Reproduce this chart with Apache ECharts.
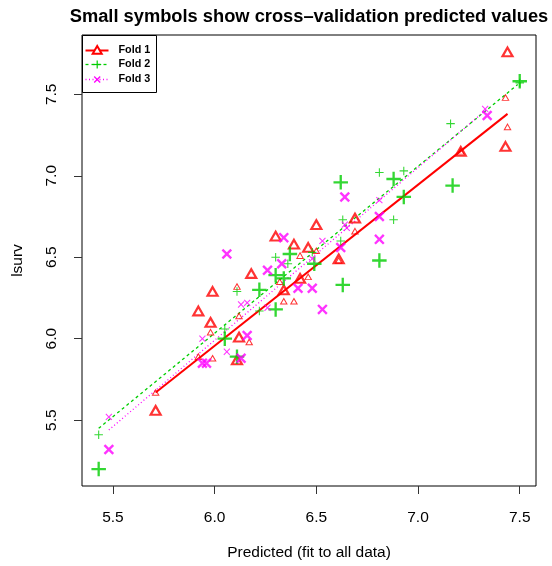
<!DOCTYPE html>
<html>
<head>
<meta charset="utf-8">
<script src="https://cdn.jsdelivr.net/npm/echarts@6/dist/echarts.min.js"></script>
<style>
  html, body { margin: 0; padding: 0; background: #fff; }
  #chart { width: 552px; height: 566px; }
</style>
</head>
<body>
<div id="chart"></div>
<script>
// Tick positions on both axes
const xTicks = [5.5, 6.0, 6.5, 7.0, 7.5];
const yTicks = [5.5, 6.0, 6.5, 7.0, 7.5];

// Fold 1: observed lsurv vs prediction from the full fit (large), and CV predictions (small)
const fold1Observed = [
  [7.44, 7.76], [7.43, 7.18], [7.21, 7.15], [6.69, 6.74], [6.50, 6.70], [6.30, 6.63],
  [6.39, 6.58], [6.46, 6.56], [6.61, 6.49], [6.42, 6.37], [6.34, 6.30], [6.18, 6.40],
  [5.99, 6.29], [5.92, 6.17], [5.98, 6.10], [6.12, 6.01], [6.11, 5.87], [5.71, 5.56]
];
const fold1CV = [
  [7.43, 7.48], [7.44, 7.30], [7.21, 7.15], [6.69, 6.66], [6.42, 6.51], [6.50, 6.54],
  [6.46, 6.38], [6.61, 6.48], [6.34, 6.23], [6.39, 6.23], [6.32, 6.35], [6.11, 6.32],
  [6.12, 6.14], [5.98, 6.04], [6.17, 5.98], [5.92, 5.89], [5.99, 5.88], [5.71, 5.67]
];
const fold1Line = [[5.71, 5.67], [7.44, 7.38]];

// Fold 2
const fold2Observed = [
  [7.50, 7.58], [7.17, 6.94], [6.93, 6.87], [6.88, 6.98], [6.62, 6.96], [6.81, 6.48],
  [6.63, 6.33], [6.49, 6.46], [6.37, 6.52], [6.34, 6.37], [6.30, 6.39], [6.22, 6.30],
  [6.30, 6.18], [6.05, 6.00], [6.11, 5.89], [5.43, 5.20]
];
const fold2CV = [
  [7.50, 7.57], [7.16, 7.32], [6.81, 7.02], [6.93, 7.03], [6.63, 6.73], [6.88, 6.73],
  [6.62, 6.60], [6.48, 6.53], [6.36, 6.46], [6.30, 6.50], [6.11, 6.29], [6.22, 6.17],
  [6.05, 6.06], [5.43, 5.41]
];
const fold2Line = [[5.43, 5.45], [7.49, 7.56]];

// Fold 3
const fold3Observed = [
  [7.34, 7.37], [6.64, 6.87], [6.81, 6.75], [6.81, 6.61], [6.62, 6.56], [6.34, 6.62],
  [6.33, 6.46], [6.41, 6.31], [6.48, 6.31], [6.53, 6.18], [6.26, 6.42], [6.06, 6.52],
  [6.16, 6.02], [6.13, 5.88], [5.94, 5.85], [5.96, 5.85], [5.48, 5.32]
];
const fold3CV = [
  [7.33, 7.41], [6.81, 6.85], [6.64, 6.70], [6.65, 6.68], [6.53, 6.60], [6.48, 6.49],
  [6.26, 6.19], [6.13, 6.21], [6.16, 6.22], [5.94, 6.00], [6.06, 5.92], [5.48, 5.52]
];
const fold3Line = [[5.48, 5.44], [7.34, 7.41]];

const foldNames = ['Fold 1', 'Fold 2', 'Fold 3'];

const RED = '#FF0000', GREEN = '#00CD00', MAGENTA = '#FF00FF';
const FONT = 'Liberation Sans, Arial, Helvetica, sans-serif';

// Filled outlines of "+" and "x" glyphs, in a 100x100 box
function plusPath(t) {
  const a = 50 - t / 2, b = 50 + t / 2;
  return `path://M${a},0 H${b} V${a} H100 V${b} H${b} V100 H${a} V${b} H0 V${a} H${a} Z`;
}
function crossPath(d) {
  return `path://M0,${d} L${d},0 L50,${50 - d} L${100 - d},0 L100,${d} L${50 + d},50 ` +
         `L100,${100 - d} L${100 - d},100 L50,${50 + d} L${d},100 L0,${100 - d} L${50 - d},50 Z`;
}

const chart = echarts.init(document.getElementById('chart'), null, { renderer: 'canvas' });

const gridLeft = 82, gridTop = 35, gridSize = 454;

function scatter(name, data, opts) {
  return Object.assign({
    type: 'scatter',
    name: name,
    data: data,
    silent: true,
    z: 3
  }, opts);
}

const option = {
  backgroundColor: '#fff',
  animation: false,
  textStyle: { fontFamily: FONT },
  title: {
    text: 'Small symbols show cross\u2013validation predicted values',
    left: gridLeft + gridSize / 2 - 5,
    textAlign: 'center',
    top: 3,
    textStyle: { fontFamily: FONT, fontSize: 18.3, fontWeight: 'bold', color: '#000' }
  },
  grid: {
    left: gridLeft, top: gridTop, width: gridSize, height: gridSize,
    show: true, borderColor: '#000', borderWidth: 1, backgroundColor: 'transparent'
  },
  xAxis: {
    type: 'value',
    min: 5.348, max: 7.58,
    name: 'Predicted (fit to all data)',
    nameLocation: 'middle',
    nameGap: 59,
    nameTextStyle: { fontFamily: FONT, fontSize: 15.5, color: '#000' },
    axisLine: { show: false },
    splitLine: { show: false },
    axisTick: { show: true, inside: false, length: 8, customValues: xTicks,
                lineStyle: { color: '#333', width: 1 } },
    axisLabel: { show: true, customValues: xTicks, margin: 24,
                 formatter: v => v.toFixed(1),
                 fontFamily: FONT, fontSize: 15.5, color: '#000' }
  },
  yAxis: {
    type: 'value',
    min: 5.096, max: 7.864,
    name: 'lsurv',
    nameLocation: 'middle',
    nameGap: 56,
    nameTextStyle: { fontFamily: FONT, fontSize: 15.5, color: '#000' },
    axisLine: { show: false },
    splitLine: { show: false },
    axisTick: { show: true, inside: false, length: 8, customValues: yTicks,
                lineStyle: { color: '#333', width: 1 } },
    axisLabel: { show: true, customValues: yTicks, margin: 22, rotate: 90,
                 formatter: v => v.toFixed(1),
                 fontFamily: FONT, fontSize: 15.5, color: '#000' }
  },
  series: [
    // fold lines
    { type: 'line', name: foldNames[0], data: fold1Line, symbol: 'none', silent: true, z: 2,
      lineStyle: { color: RED, width: 2, type: 'solid' } },
    { type: 'line', name: foldNames[1], data: fold2Line, symbol: 'none', silent: true, z: 2,
      lineStyle: { color: GREEN, width: 1.3, type: [3, 3] } },
    { type: 'line', name: foldNames[2], data: fold3Line, symbol: 'none', silent: true, z: 2,
      lineStyle: { color: MAGENTA, width: 1.3, type: [1, 2.5] } },

    // fold 1: open triangles
    scatter(foldNames[0], fold1Observed, {
      symbol: 'triangle', symbolSize: [10, 8.7],
      itemStyle: { color: 'rgba(0,0,0,0)', borderColor: RED, borderWidth: 2.2 }
    }),
    scatter(foldNames[0], fold1CV, {
      symbol: 'triangle', symbolSize: [6.4, 5.6],
      itemStyle: { color: 'rgba(0,0,0,0)', borderColor: RED, borderWidth: 1 }
    }),

    // fold 2: plus signs
    scatter(foldNames[1], fold2Observed, {
      symbol: plusPath(16), symbolSize: 14.5,
      itemStyle: { color: GREEN }
    }),
    scatter(foldNames[1], fold2CV, {
      symbol: plusPath(12.5), symbolSize: 8.5,
      itemStyle: { color: GREEN }
    }),

    // fold 3: crosses
    scatter(foldNames[2], fold3Observed, {
      symbol: crossPath(16), symbolSize: 10.5,
      itemStyle: { color: MAGENTA }
    }),
    scatter(foldNames[2], fold3CV, {
      symbol: crossPath(11), symbolSize: 6.8,
      itemStyle: { color: MAGENTA }
    })
  ],
  graphic: [
    {
      type: 'group', left: gridLeft, top: gridTop, z: 100,
      children: [
        { type: 'rect', shape: { x: 0, y: 0, width: 74, height: 57 },
          style: { fill: '#fff', stroke: '#000', lineWidth: 1 } },
        // line samples
        { type: 'line', shape: { x1: 3, y1: 15, x2: 26, y2: 15 },
          style: { stroke: RED, lineWidth: 2 } },
        { type: 'line', shape: { x1: 3, y1: 29, x2: 26, y2: 29 },
          style: { stroke: GREEN, lineWidth: 1.3, lineDash: [3, 3] } },
        { type: 'line', shape: { x1: 3, y1: 44, x2: 26, y2: 44 },
          style: { stroke: MAGENTA, lineWidth: 1.3, lineDash: [1, 2.5] } },
        // symbols
        { type: 'polygon', shape: { points: [[14.7, 10.5], [19.2, 18.2], [10.2, 18.2]] },
          style: { fill: '#fff', stroke: RED, lineWidth: 2 } },
        { type: 'rect', shape: { x: 10.7, y: 28.4, width: 8, height: 1.2 }, style: { fill: GREEN } },
        { type: 'rect', shape: { x: 14.1, y: 25, width: 1.2, height: 8 }, style: { fill: GREEN } },
        { type: 'line', shape: { x1: 11.7, y1: 41, x2: 17.7, y2: 47 }, style: { stroke: MAGENTA, lineWidth: 1.3 } },
        { type: 'line', shape: { x1: 17.7, y1: 41, x2: 11.7, y2: 47 }, style: { stroke: MAGENTA, lineWidth: 1.3 } },
        // labels
        { type: 'text', x: 36, y: 15,
          style: { text: foldNames[0], font: 'bold 10.8px ' + FONT, fill: '#000', verticalAlign: 'middle' } },
        { type: 'text', x: 36, y: 29,
          style: { text: foldNames[1], font: 'bold 10.8px ' + FONT, fill: '#000', verticalAlign: 'middle' } },
        { type: 'text', x: 36, y: 44,
          style: { text: foldNames[2], font: 'bold 10.8px ' + FONT, fill: '#000', verticalAlign: 'middle' } }
      ]
    }
  ]
};

chart.setOption(option);
</script>
</body>
</html>
